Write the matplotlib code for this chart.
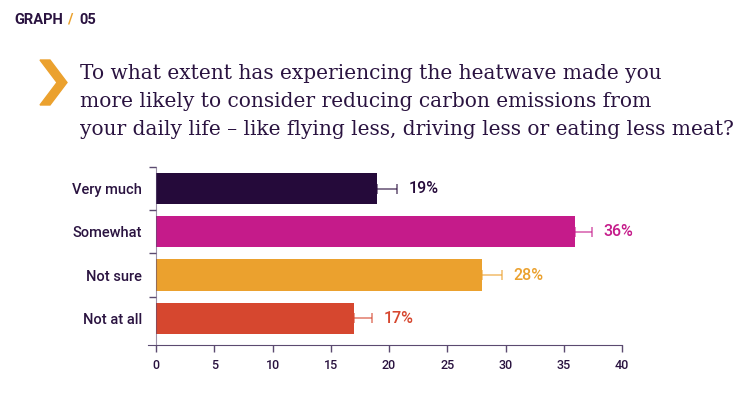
import matplotlib
matplotlib.use("Agg")
import matplotlib.pyplot as plt
from matplotlib.patches import Polygon

# ---------- data ----------
categories = ["Very much", "Somewhat", "Not sure", "Not at all"]
values = [19, 36, 28, 17]
err_plus = [1.7, 1.4, 1.7, 1.5]
bar_colors = ["#250a3a", "#c51b8a", "#eba12e", "#d6472f"]
xticks = [0, 5, 10, 15, 20, 25, 30, 35, 40]

title = ("To what extent has experiencing the heatwave made you\n"
         "more likely to consider reducing carbon emissions from\n"
         "your daily life \u2013 like flying less, driving less or eating less meat?")

dark = "#2a1340"
axis_col = "#5b4a70"
orange = "#eba12e"

plt.rcParams["font.family"] = ["Roboto", "DejaVu Sans"]

fig = plt.figure(figsize=(7.5, 3.93), dpi=100)
# axes starts a little left of 0 so the x axis line overhangs the y axis
ax = fig.add_axes([148 / 750, 0.122, 474 / 750, 0.453])

# spine setup first (set_position resets tick label styling)
for s in ["top", "right"]:
    ax.spines[s].set_visible(False)
ax.spines["left"].set_position(("data", 0))
ax.spines["left"].set_color(axis_col)
ax.spines["left"].set_alpha(0.6)
ax.spines["bottom"].set_color(axis_col)

y = list(range(len(categories)))
ax.barh(y, values, height=0.72, color=bar_colors, zorder=2)
for i, (v, e, c) in enumerate(zip(values, err_plus, bar_colors)):
    ax.errorbar(v, i, xerr=[[0], [e]], fmt="none", ecolor=c, alpha=0.6,
                elinewidth=1.3, capsize=3.5, capthick=1.3, zorder=1)
    ax.text(v + e + 1.0, i, f"{v}%", va="center", ha="left",
            fontsize=11.5, fontweight="medium", color=c)

ax.set_xlim(-0.69, 40)
ax.set_ylim(3.62, -0.5)
ax.set_xticks(xticks)
ax.set_xticklabels([str(t) for t in xticks], fontsize=9, color=dark, fontweight="medium")
ax.set_yticks(y)
ax.set_yticklabels(categories, fontsize=10.5, color=dark, fontweight="medium")
ax.set_yticks([-0.5, 0.5, 1.5, 2.5], minor=True)
ax.tick_params(axis="y", which="major", length=0, pad=10)
ax.tick_params(axis="y", which="minor", length=5, color=axis_col, width=1)
ax.tick_params(axis="x", length=5, color=axis_col, width=1, pad=5)

# header
hy = 1 - 20 / 393
fig.text(14 / 750, hy, "GRAPH", fontsize=10.5, fontweight="bold",
         color=dark, va="center", ha="left")
fig.text(67 / 750, hy, "/", fontsize=10.5, fontweight="bold",
         color=orange, va="center", ha="left")
fig.text(79 / 750, hy, "05", fontsize=10.5, fontweight="bold",
         color=dark, va="center", ha="left")

# chevron
W, H = 750, 393
pts = [(40, 60), (50, 60), (67, 82.5), (50, 105), (40, 105), (57, 82.5)]
fig.patches.append(Polygon([(px / W, 1 - py / H) for px, py in pts], closed=True,
                           transform=fig.transFigure, color=orange))

fig.text(80 / 750, 1 - 64 / 393, title, fontsize=14.5, family="DejaVu Serif",
         color=dark, va="top", ha="left", linespacing=1.6)

fig.savefig("out.png", dpi=100)
